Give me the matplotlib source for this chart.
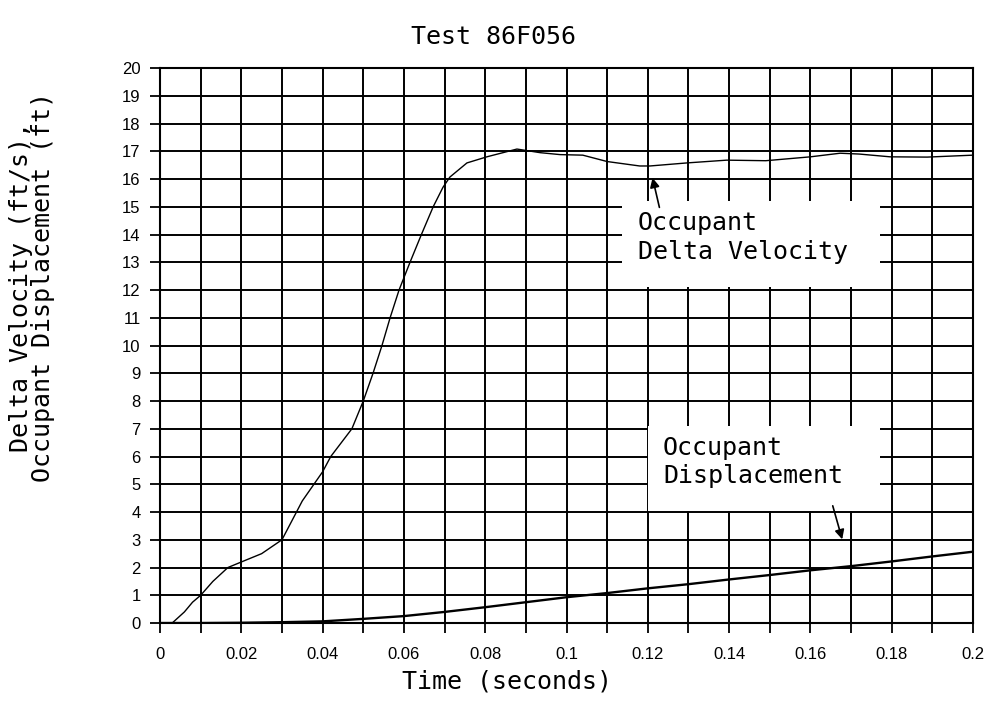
import numpy as np
import matplotlib as mpl
mpl.use('Agg')
import matplotlib.pyplot as plt
from matplotlib.patches import Rectangle
from matplotlib.ticker import MultipleLocator, FuncFormatter

# Occupant delta velocity (ft/s)
t_vel = [0.0, 0.003, 0.006, 0.008, 0.010, 0.013, 0.0167, 0.020, 0.025, 0.030,
         0.035, 0.040, 0.042, 0.0472, 0.050, 0.0524, 0.0546, 0.0566, 0.0588,
         0.0615, 0.0643, 0.0672, 0.0696, 0.0713, 0.0755, 0.0804, 0.0878,
         0.0935, 0.0984, 0.104, 0.110, 0.118, 0.1205, 0.1296, 0.1394, 0.149,
         0.160, 0.1673, 0.172, 0.1796, 0.1887, 0.200]
vel = [0.0, 0.0, 0.4, 0.75, 1.0, 1.5, 2.0, 2.2, 2.5, 3.0,
       4.4, 5.45, 6.0, 7.0, 8.0, 9.0, 10.0, 11.0, 12.0,
       13.0, 14.0, 15.0, 15.7, 16.07, 16.58, 16.8, 17.08,
       16.95, 16.88, 16.86, 16.63, 16.47, 16.47, 16.58, 16.68, 16.66,
       16.8, 16.93, 16.9, 16.8, 16.79, 16.86]

# Occupant displacement (ft)
t_disp = [0.0, 0.01, 0.02, 0.03, 0.04, 0.05, 0.06, 0.07, 0.08, 0.09, 0.10,
          0.11, 0.12, 0.13, 0.14, 0.15, 0.16, 0.17, 0.18, 0.19, 0.20]
disp = [0.0, 0.0, 0.01, 0.03, 0.06, 0.15, 0.25, 0.40, 0.57, 0.75, 0.93,
        1.08, 1.25, 1.40, 1.57, 1.73, 1.90, 2.05, 2.22, 2.40, 2.57]

mono = 'DejaVu Sans Mono'

fig = plt.figure(figsize=(9.92, 7.02), dpi=100)
ax = fig.add_axes([0.1613, 0.1125, 0.8196, 0.7906])

ax.plot(t_vel, vel, '-', color='k', lw=1.0, zorder=3)
ax.plot(t_disp, disp, '-', color='k', lw=1.7, zorder=3)

ax.set_xlim(0, 0.2)
ax.set_ylim(0, 20)
ax.xaxis.set_major_locator(MultipleLocator(0.02))
ax.xaxis.set_minor_locator(MultipleLocator(0.01))
ax.yaxis.set_major_locator(MultipleLocator(1))
ax.xaxis.set_major_formatter(FuncFormatter(lambda v, p: '%g' % round(v, 3)))
ax.set_axisbelow(True)
ax.grid(True, which='both', color='k', lw=1.4)
for s in ax.spines.values():
    s.set_linewidth(1.5)
ax.tick_params(which='both', direction='out', length=7, width=1.3)
ax.tick_params(axis='x', pad=10)
ax.tick_params(axis='y', pad=7)
for lab in ax.get_xticklabels() + ax.get_yticklabels():
    lab.set_family('Liberation Sans')
    lab.set_fontsize(12)

# white label boxes that blank out the grid
ax.add_patch(Rectangle((0.1136, 12.1), 0.0635, 3.1, facecolor='white',
                       edgecolor='none', zorder=1))
ax.add_patch(Rectangle((0.1200, 4.05), 0.0571, 3.05, facecolor='white',
                       edgecolor='none', zorder=1))

ax.text(0.1176, 14.85, 'Occupant\nDelta Velocity', ha='left', va='top',
        family=mono, fontsize=18, linespacing=1.25, zorder=4)
ax.annotate('', xy=(0.121, 16.14), xytext=(0.123, 14.88),
            arrowprops=dict(arrowstyle='-|>', color='k', lw=1.2,
                            mutation_scale=14), zorder=4)

ax.text(0.1237, 6.75, 'Occupant\nDisplacement', ha='left', va='top',
        family=mono, fontsize=18, linespacing=1.25, zorder=4)
ax.annotate('', xy=(0.168, 2.92), xytext=(0.1653, 4.32),
            arrowprops=dict(arrowstyle='-|>', color='k', lw=1.2,
                            mutation_scale=14), zorder=4)

fig.text(0.497, 1 - 37 / 702, 'Test 86F056', ha='center', va='center',
         family=mono, fontsize=18)
fig.text(507 / 992, 1 - 682 / 702, 'Time (seconds)', ha='center',
         va='center', family=mono, fontsize=18)
fig.text(32 / 992, 1 - 287 / 702,
         'Delta Velocity (ft/s),\nOccupant Displacement (ft)',
         rotation=90, ha='center', va='center', family=mono, fontsize=18,
         linespacing=0.85)

fig.savefig('out.png', dpi=100)
